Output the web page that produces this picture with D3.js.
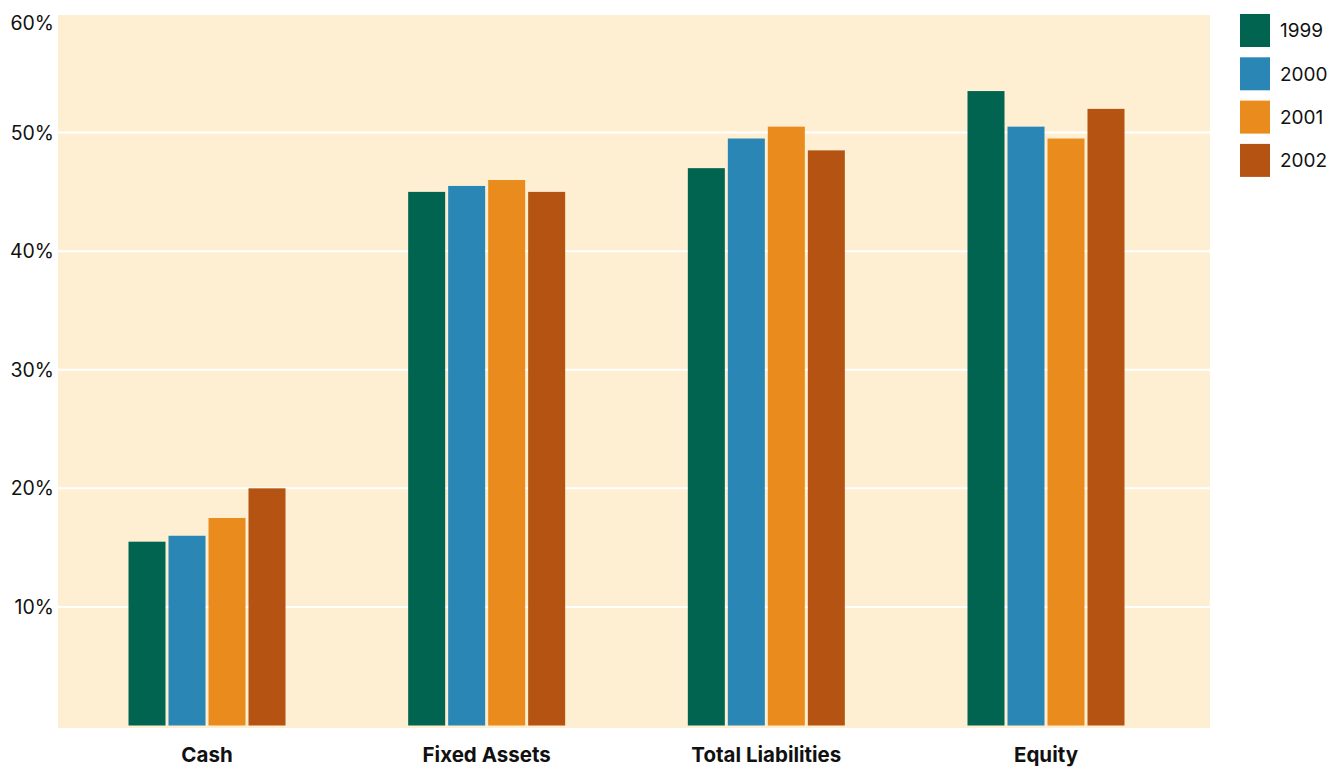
<!DOCTYPE html>
<html>
<head>
<meta charset="utf-8">
<script src="https://cdn.jsdelivr.net/npm/d3@7"></script>
<style>
  html, body { margin: 0; padding: 0; background: #ffffff; }
  svg { display: block; font-family: Inter, "Noto Sans", sans-serif; }
</style>
</head>
<body>
<svg id="chart" width="1330" height="768"></svg>
<script>
// Balance-sheet composition by year (% of total)
const categories = ["Cash", "Fixed Assets", "Total Liabilities", "Equity"];
const years = ["1999", "2000", "2001", "2002"];
const values1999 = [15.5, 45.0, 47.0, 53.5];
const values2000 = [16.0, 45.5, 49.5, 50.5];
const values2001 = [17.5, 46.0, 50.5, 49.5];
const values2002 = [20.0, 45.0, 48.5, 52.0];
const yTicks = [10, 20, 30, 40, 50, 60];
const colors = ["#006450", "#2986b5", "#ea8b1d", "#b45312"];

const series = [values1999, values2000, values2001, values2002];
const rows = categories.map((c, i) => ({
  category: c,
  bars: years.map((yr, j) => ({ year: yr, value: series[j][i], color: colors[j] }))
}));

const svg = d3.select("#chart");
const plot = { left: 58, right: 1210, top: 15, bottom: 728 };

const y = d3.scaleLinear().domain([0, 60]).range([725.5, 14]);
const x0 = d3.scalePoint().domain(categories).range([207, 1046]);
const x1 = d3.scaleBand().domain(years).range([-78.5, 78.5]).paddingInner(0.075);

// plot background
svg.append("rect")
  .attr("x", plot.left).attr("y", plot.top)
  .attr("width", plot.right - plot.left).attr("height", plot.bottom - plot.top)
  .attr("fill", "#feefd3");

// horizontal gridlines
svg.append("g").selectAll("line")
  .data(yTicks.filter(t => t < 60))
  .join("line")
  .attr("x1", plot.left).attr("x2", plot.right)
  .attr("y1", d => y(d)).attr("y2", d => y(d))
  .attr("stroke", "#ffffff").attr("stroke-width", 2);

// y axis labels
const yAxis = d3.axisLeft(y).tickValues(yTicks).tickSize(0).tickPadding(4)
  .tickFormat(d => d + "%");
const yg = svg.append("g").attr("transform", `translate(${plot.left},0)`).call(yAxis);
yg.select(".domain").remove();
yg.selectAll("text")
  .attr("font-size", 19.5).attr("fill", "#111").attr("font-family", "Inter, sans-serif")
  .attr("dy", d => d === 60 ? "0.78em" : "0.33em");

// bars
const groups = svg.append("g").selectAll("g")
  .data(rows)
  .join("g")
  .attr("transform", d => `translate(${x0(d.category)},0)`);

groups.selectAll("rect")
  .data(d => d.bars)
  .join("rect")
  .attr("x", d => x1(d.year))
  .attr("width", x1.bandwidth())
  .attr("y", d => y(d.value))
  .attr("height", d => y(0) - y(d.value))
  .attr("fill", d => d.color);

// category labels
svg.append("g").selectAll("text")
  .data(categories)
  .join("text")
  .attr("x", d => x0(d))
  .attr("y", 762)
  .attr("text-anchor", "middle")
  .attr("font-size", 20.5).attr("font-weight", 700).attr("fill", "#111")
  .text(d => d);

// legend
const legend = svg.append("g").attr("transform", "translate(1240,14)");
const items = legend.selectAll("g")
  .data(years)
  .join("g")
  .attr("transform", (d, i) => `translate(0,${i * 43.3})`);
items.append("rect")
  .attr("width", 30).attr("height", 33)
  .attr("fill", (d, i) => colors[i]);
items.append("text")
  .attr("x", 40).attr("y", 16.5).attr("dy", "0.36em")
  .attr("font-size", 19).attr("fill", "#111")
  .text(d => d);
</script>
</body>
</html>
